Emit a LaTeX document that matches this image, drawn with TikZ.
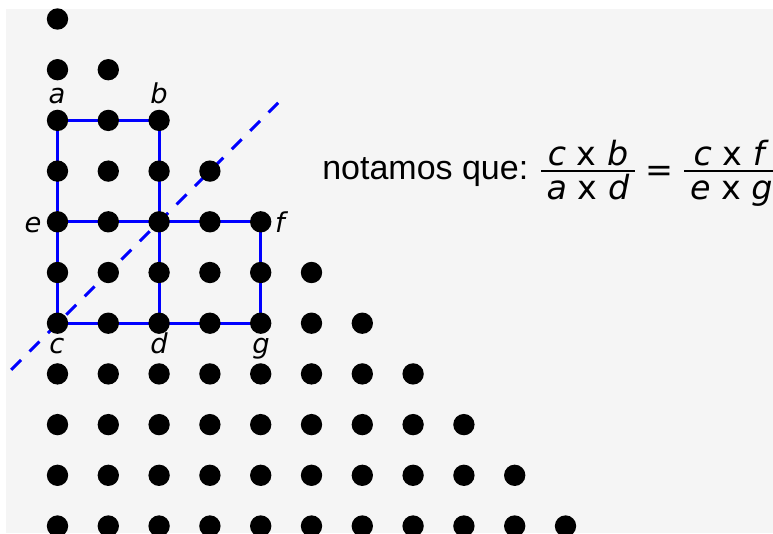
\documentclass[tikz,border=0pt]{standalone}
\usepackage{amsmath}
\usepackage{fontspec}
\setmainfont{Liberation Sans}
\newfontfamily\dejavu{DejaVu Sans}[ItalicFont={DejaVu Sans Oblique}]
\usetikzlibrary{backgrounds}
\definecolor{bggray}{HTML}{F5F5F5}

\begin{document}
\begin{tikzpicture}[
        x=0.75pt, y=-0.75pt,
        dot/.style={circle, fill=black, inner sep=0pt, minimum size=16pt},
        edge/.style={blue, line width=2.25pt},
        diag/.style={blue, line width=2.25pt, dash pattern=on 10.5pt off 9pt},
        lbl/.style={font=\fontsize{20.5}{24}\selectfont\dejavu\itshape, inner sep=0pt, anchor=base},
        eqtext/.style={font=\fontsize{25.5}{30}\selectfont, inner sep=0pt, anchor=base west}
    ]
        \useasboundingbox (0,0) rectangle (773,533);

        % === Triangle of dots ===
        \foreach \j in {0,...,10}
            \foreach \i in {0,...,\j}
                \node[dot] (p\i-\j) at (57.5+50.8*\i, 19+50.7*\j) {};

        % Corner labels
        \node[lbl] (la) at (57,103) {a};
        \node[lbl] (lb) at (159,103) {b};
        \node[lbl] (le) at (33,232) {e};
        \node[lbl] (lf) at (280,232) {f};
        \node[lbl] (lc) at (57,353) {c};
        \node[lbl] (ld) at (159,353) {d};
        \node[lbl] (lg) at (261,353) {g};

        % Ratio
        \node[eqtext] (eq) at (322,179)
            {notamos que:\hspace{-1pt} {\fontsize{25}{30}\selectfont\dejavu
             $\genfrac{}{}{1.4pt}{0}{\smash{\raisebox{-6.4pt}{\,\textit{c} x \textit{b}\,}}}{\smash{\raisebox{2pt}{\,\textit{a} x \textit{d}\,}}}
             \mathrel{\raisebox{-2pt}{=}}
             \genfrac{}{}{1.4pt}{0}{\smash{\raisebox{-6.4pt}{\,\textit{c} x \textit{f}\,}}}{\smash{\raisebox{2pt}{\,\textit{e} x \textit{g}\,}}}$}};

        % Diagonal end points
        \path (p2-4) ++(-148,148) coordinate (dlo);
        \path (p2-4) ++(119,-119) coordinate (dhi);

        % === Rectangles and diagonal, under the dots ===
        \begin{scope}[on background layer]
            \fill[bggray] (6,9) rectangle (773,533);
            \draw[edge] (p0-2.center) -- (p2-2.center) -- (p2-6.center) -- (p0-6.center) -- cycle;
            \draw[edge] (p0-4.center) -- (p4-4.center) -- (p4-6.center) -- (p2-6.center);
            \draw[diag] (dlo) -- (dhi);
        \end{scope}

\end{tikzpicture}
\end{document}
